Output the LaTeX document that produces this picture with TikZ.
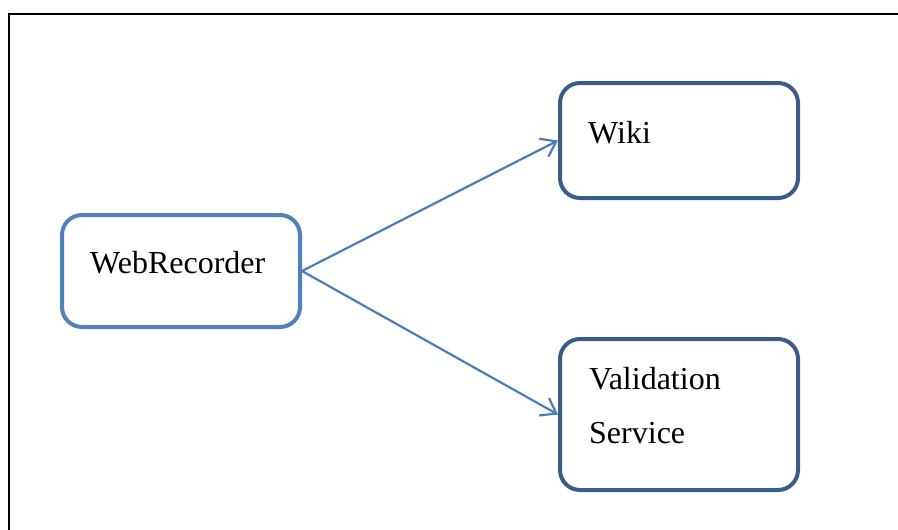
\documentclass[tikz,border=0pt]{standalone}
\usepackage{fontspec}
\setmainfont{Liberation Serif}
\usetikzlibrary{arrows.meta}
\definecolor{boxlight}{HTML}{4F81BD}
\definecolor{boxdark}{HTML}{385D8A}
\definecolor{linkblue}{HTML}{4A7EBB}
\tikzset{
  box/.style={draw, line width=4pt, rounded corners=20pt, fill=white,
              minimum width=238pt, inner sep=0pt},
  lbl/.style={anchor=base west, inner sep=0pt,
              font=\fontsize{32pt}{54pt}\selectfont},
  link/.style={draw=linkblue, line width=2.2pt,
               -{Straight Barb[length=14pt,width=20pt,line width=2.2pt]}}
}
\begin{document}
\begin{tikzpicture}[x=1pt,y=-1pt]
  \useasboundingbox (0,0) rectangle (898,530);
  % outer frame, running past the right and bottom edges
  \draw[line width=1.5pt] (9,560) -- (9,14) -- (930,14);

  % boxes
  \node[box, draw=boxlight, minimum height=112pt] (web)  at (181,271)   {};
  \node[box, draw=boxdark,  minimum height=115pt] (wiki) at (679,140.5) {};
  \node[box, draw=boxdark,  minimum height=151pt] (val)  at (679,414.5) {};

  % box texts
  \node[lbl] (webt)  at (90,273)  {WebRecorder};
  \node[lbl] (wikit) at (588,143) {Wiki};
  \node[lbl] (valt)  at (589,389) {Validation};
  \node[lbl] (valt2) at (589,443) {Service};

  % connectors
  \draw[link] (web.east) -- (wiki.west);
  \draw[link] (web.east) -- (val.west);
\end{tikzpicture}
\end{document}
